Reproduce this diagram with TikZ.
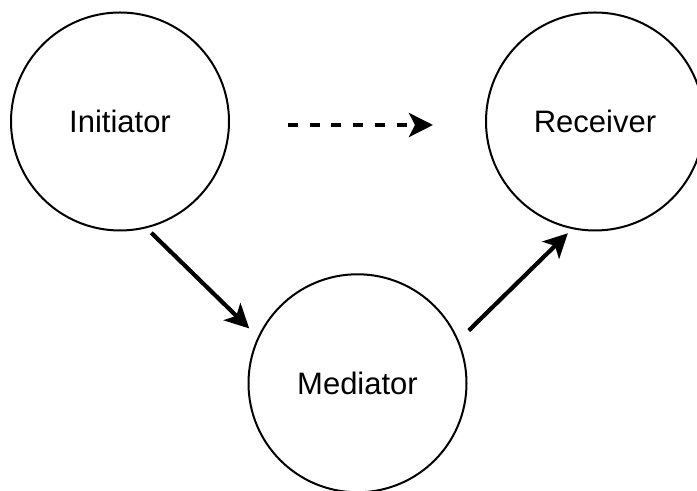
\documentclass[tikz,border=0pt]{standalone}
\usepackage{fontspec}
\setmainfont{Liberation Sans}
\usetikzlibrary{arrows.meta}

\begin{document}
\begin{tikzpicture}[x=0.5pt, y=0.5pt,
    party/.style={shape=circle, draw=black, line width=1pt, minimum size=109pt,
        inner sep=0pt, font=\fontsize{15.5pt}{18pt}\selectfont},
    link/.style={line width=2.1pt, -{Stealth[length=12pt, width=12pt, inset=3pt]}}]
    \useasboundingbox (0,0) rectangle (697,491);

    % the three parties
    \node[party] (ini) at (120,369.5) {Initiator};
    \node[party] (rec) at (595,369.5) {Receiver};
    \node[party] (med) at (357.5,107.7) {Mediator};

    % arrows between them
    \draw[link, shorten <=3.3pt, shorten >=6pt] (ini.-76.8) -- (med.155);
    \draw[link, shorten <=7pt, shorten >=3pt] (med.23) -- (rec.-102.4);
    \draw[link, dash pattern=on 5pt off 5.85pt, shorten <=29pt, shorten >=26pt]
        ([yshift=-1.75pt]ini.east) -- ([yshift=-1.75pt]rec.west);

\end{tikzpicture}
\end{document}
